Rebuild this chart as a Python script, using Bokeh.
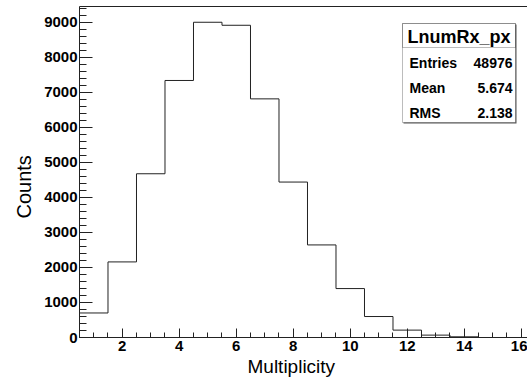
import math
from bokeh.plotting import figure
from bokeh.models import (Range1d, SingleIntervalTicker, FixedTicker, LinearAxis,
                          Label, BoxAnnotation, Title)
from bokeh.embed import file_html
from bokeh.resources import INLINE

# ---- data ----
bin_centers = list(range(1, 17))
counts = [700, 2158, 4675, 7338, 9000, 8914, 6813, 4438, 2643, 1397,
          599, 211, 68, 20, 0, 0]
x_major_interval = 2
y_major_interval = 1000
x_label = "Multiplicity"
y_label = "Counts"
stats_title = "LnumRx_px"
stats_names = ["Entries", "Mean", "RMS"]
stats_values = ["48976", "5.674", "2.138"]

FONT = "Liberation Sans"

p = figure(width=527, height=378, output_backend="svg", toolbar_location=None,
           x_range=Range1d(0.5, 16.22), y_range=Range1d(0, 9450),
           x_axis_type=None, y_axis_type=None,
           min_border_left=79, min_border_right=0, min_border_top=6,
           min_border_bottom=41)
p.outline_line_color = None
p.grid.visible = False
p.background_fill_color = "white"
p.border_fill_color = "white"

# histogram outline
edges = [c - 0.5 for c in bin_centers] + [bin_centers[-1] + 0.5]
ys = counts + [counts[-1]]
p.step(edges, ys, mode="after", line_color="#222222", line_width=1)

def style_axis(ax, major_in, minor_in, standoff):
    ax.axis_line_color = "#222222"
    ax.axis_line_width = 1
    ax.major_tick_in = major_in
    ax.major_tick_out = 0
    ax.minor_tick_in = minor_in
    ax.minor_tick_out = 0
    ax.major_tick_line_color = "#222222"
    ax.minor_tick_line_color = "#222222"
    ax.major_label_text_font = FONT
    ax.major_label_text_font_style = "bold"
    ax.major_label_text_font_size = "15px"
    ax.major_label_text_color = "black"
    ax.major_label_standoff = standoff

xa = LinearAxis(ticker=SingleIntervalTicker(interval=x_major_interval, num_minor_ticks=4))
style_axis(xa, 9, 5, 3)
p.add_layout(xa, "below")

ya = LinearAxis(ticker=SingleIntervalTicker(interval=y_major_interval, num_minor_ticks=5))
style_axis(ya, 13, 7, 2)
p.add_layout(ya, "left")

top = LinearAxis(ticker=FixedTicker(ticks=[]))
top.axis_line_color = "#222222"
top.major_label_text_font_size = "0px"
top.major_label_standoff = 0
top.major_tick_in = 0
top.major_tick_out = 0
top.minor_tick_in = 0
top.minor_tick_out = 0
p.add_layout(top, "above")

# axis titles
p.add_layout(Title(text=y_label, align="left", offset=119, standoff=14,
                   text_font=FONT, text_font_size="20px", text_font_style="normal",
                   text_color="black"), "left")
p.add_layout(Title(text=x_label, align="left", offset=168, standoff=0,
                   text_font=FONT, text_font_size="19px", text_font_style="normal",
                   text_color="black"), "below")

# stats box
bl, br, bt, bb = 323, 436, 314, 215
p.add_layout(BoxAnnotation(left=bl + 1, right=br + 1, top=bt - 1, bottom=bb - 1,
                           left_units="screen", right_units="screen",
                           top_units="screen", bottom_units="screen",
                           fill_color="#555555", fill_alpha=1, line_color=None))
p.add_layout(BoxAnnotation(left=bl, right=br, top=bt, bottom=bb,
                           left_units="screen", right_units="screen",
                           top_units="screen", bottom_units="screen",
                           fill_color="white", fill_alpha=1,
                           line_color="#222222", line_width=1))
p.add_layout(BoxAnnotation(left=bl, right=br, top=bt, bottom=290,
                           left_units="screen", right_units="screen",
                           top_units="screen", bottom_units="screen",
                           fill_color=None, fill_alpha=0,
                           line_color="#222222", line_width=1))
p.add_layout(Label(x=(bl + br) / 2, y=301, x_units="screen", y_units="screen",
                   text=stats_title, text_align="center", text_baseline="middle",
                   text_font=FONT, text_font_style="bold", text_font_size="18px",
                   text_color="black"))
row_y = [275, 250, 225]
for name, val, yy in zip(stats_names, stats_values, row_y):
    p.add_layout(Label(x=bl + 7, y=yy, x_units="screen", y_units="screen",
                       text=name, text_align="left", text_baseline="middle",
                       text_font=FONT, text_font_style="bold", text_font_size="14px",
                       text_color="black"))
    p.add_layout(Label(x=br - 3, y=yy, x_units="screen", y_units="screen",
                       text=val, text_align="right", text_baseline="middle",
                       text_font=FONT, text_font_style="bold", text_font_size="14px",
                       text_color="black"))

open("out.html", "w").write(file_html(p, INLINE))
